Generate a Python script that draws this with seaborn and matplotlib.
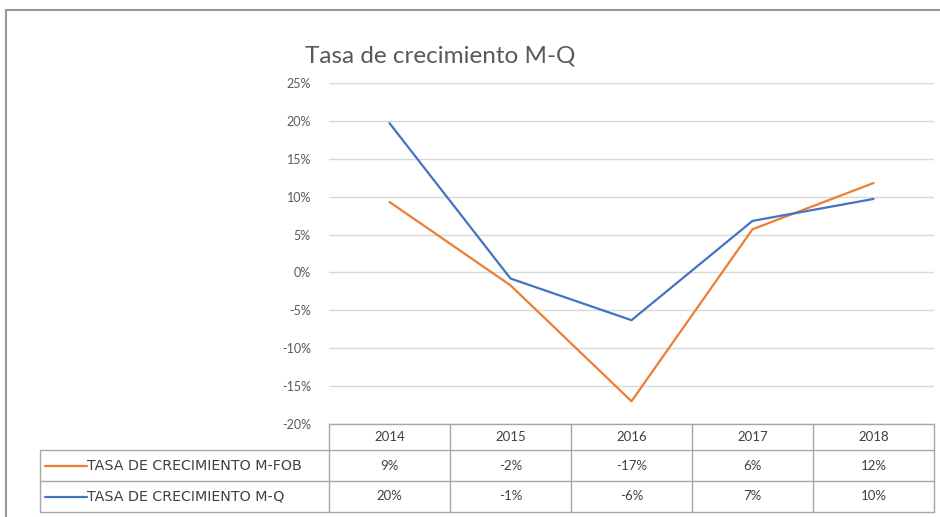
import numpy as np
import pandas as pd
import matplotlib
matplotlib.use("Agg")
import matplotlib.pyplot as plt
import seaborn as sns
from matplotlib.patches import Rectangle
from matplotlib.lines import Line2D

# Data
years = ["2014", "2015", "2016", "2017", "2018"]
fob = [9.3, -1.7, -17.0, 5.7, 11.8]
mq = [19.7, -0.8, -6.3, 6.8, 9.7]
fob_labels = ["9%", "-2%", "-17%", "6%", "12%"]
mq_labels = ["20%", "-1%", "-6%", "7%", "10%"]
series_names = ["TASA DE CRECIMIENTO M-FOB", "TASA DE CRECIMIENTO M-Q"]
colors = ["#ED7D31", "#4472C4"]

df = pd.DataFrame({
    "x": list(range(len(years))) * 2,
    "value": fob + mq,
    "serie": [series_names[0]] * len(years) + [series_names[1]] * len(years),
})

sns.set_style("white")
plt.rcParams['font.family'] = ['Lato', 'DejaVu Sans']

W, H = 940, 517
fig = plt.figure(figsize=(9.4, 5.17), dpi=100)
left, right, top, bottom = 329, 934, 83, 424
ax = fig.add_axes([left / W, 1 - bottom / H, (right - left) / W, (bottom - top) / H])

sns.lineplot(data=df, x="x", y="value", hue="serie", palette=colors,
             linewidth=1.6, ax=ax, legend=False)

ax.set_xlim(-0.5, len(years) - 0.5)
ax.set_ylim(-20, 25)
ax.set_yticks(np.arange(-20, 26, 5))
ax.set_yticklabels([f"{v}%" for v in range(-20, 26, 5)], color="#595959", fontsize=9)
ax.tick_params(axis="y", length=0, pad=13)
ax.set_xticks([])
ax.set_xlabel("")
ax.set_ylabel("")
ax.grid(axis="y", color="#d9d9d9", linewidth=1)
for s in ax.spines.values():
    s.set_visible(False)

# title
fig.text(305 / W, 1 - 56 / H, "Tasa de crecimiento M-Q", fontsize=17.5,
         color="#595959", ha="left", va="center")

# data table below the axes
ph = bottom - top
def ay(py):
    return -(py - bottom) / ph

n = len(years)
tbl_color = "#a6a6a6"
row_y = [ay(424), ay(450), ay(481), ay(512)]
lab_left = (40 - left) / (right - left)
tr = ax.transAxes
# horizontal lines
ax.add_line(Line2D([0, 1], [row_y[0]] * 2, transform=tr, color=tbl_color, lw=1, clip_on=False))
for yy in row_y[1:]:
    ax.add_line(Line2D([lab_left, 1], [yy] * 2, transform=tr, color=tbl_color, lw=1, clip_on=False))
# vertical lines
for i in range(n + 1):
    ax.add_line(Line2D([i / n] * 2, [row_y[0], row_y[3]], transform=tr, color=tbl_color, lw=1, clip_on=False))
ax.add_line(Line2D([lab_left] * 2, [row_y[1], row_y[3]], transform=tr, color=tbl_color, lw=1, clip_on=False))

txt_color = "#404040"
for i, y in enumerate(years):
    ax.text((i + 0.5) / n, (row_y[0] + row_y[1]) / 2, y, transform=tr,
            ha="center", va="center", fontsize=9.5, color=txt_color)
for r, labels in enumerate([fob_labels, mq_labels]):
    yc = (row_y[r + 1] + row_y[r + 2]) / 2
    for i, lab in enumerate(labels):
        ax.text((i + 0.5) / n, yc, lab, transform=tr,
                ha="center", va="center", fontsize=9.5, color=txt_color)
    x0 = (45 - left) / (right - left)
    x1 = (87 - left) / (right - left)
    ax.add_line(Line2D([x0, x1], [yc, yc], transform=tr, color=colors[r], lw=1.6, clip_on=False))
    ax.text(x1, yc, series_names[r], transform=tr, ha="left", va="center",
            fontsize=10.3, color=txt_color, family="DejaVu Sans")

# outer chart frame
fig.add_artist(Rectangle((6 / W, -0.05), 1.1, 1 - 10 / H + 0.05, transform=fig.transFigure,
                         fill=False, edgecolor="#9a9a9a", lw=1.5))

fig.savefig("out.png", dpi=100)
